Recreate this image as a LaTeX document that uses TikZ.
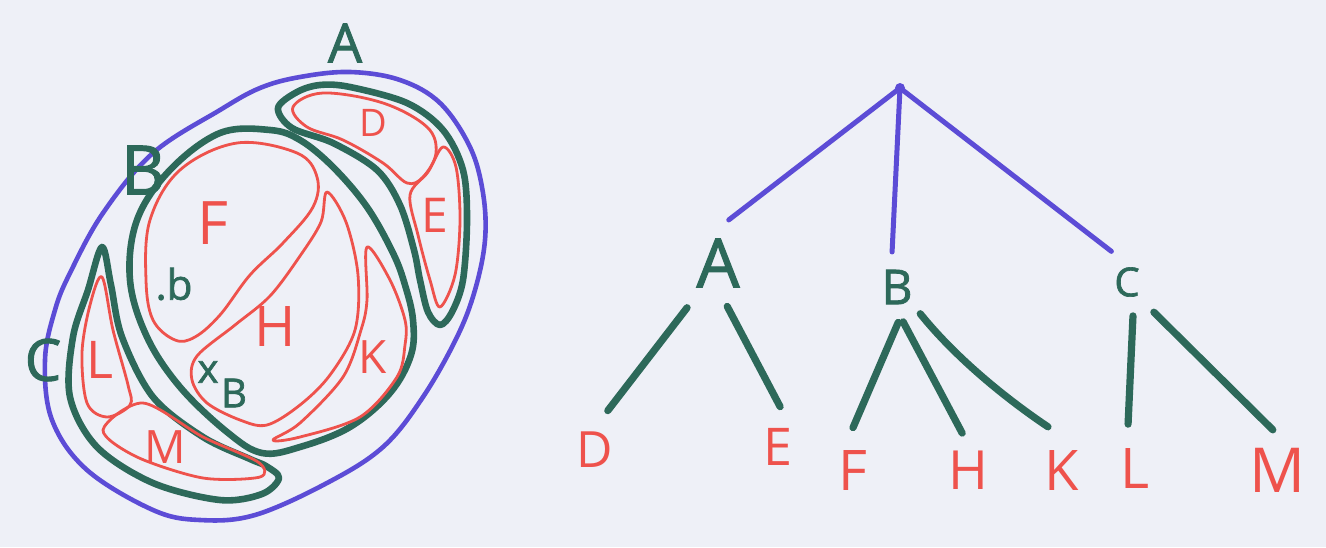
\documentclass[tikz,border=0pt]{standalone}
\usepackage{fontspec}
\setmainfont{Open Sans}
\newfontfamily\greenfont{Open Sans}[FakeBold=1.6]
\definecolor{bg}{RGB}{238,240,247}
\definecolor{pgreen}{RGB}{45,105,90}
\definecolor{pred}{RGB}{238,82,76}
\definecolor{pblue}{RGB}{92,76,214}
\begin{document}
\begin{tikzpicture}[x=0.5pt,y=-0.5pt,
  gline/.style={draw=pgreen,line width=3.3pt,line cap=round,line join=round},
  rline/.style={draw=pred,line width=1.4pt,line cap=round,line join=round},
  bline/.style={draw=pblue,line width=2.3pt},
  glab/.style={text=pgreen,font=\greenfont\fontsize{#1}{#1}\selectfont,inner sep=0pt},
  rlab/.style={text=pred,font=\fontsize{#1}{#1}\selectfont,inner sep=0pt},
  tnode/.style={circle,inner sep=0pt,minimum size=#1},
  tblue/.style={draw=pblue,line width=2.5pt,line cap=round},
  tgreen/.style={draw=pgreen,line width=3.6pt,line cap=round},
]
\fill[bg] (0,0) rectangle (1326,547);
\useasboundingbox (0,0) rectangle (1326,547);

% ---------- left drawing ----------
% outer blue set
\draw[bline] plot[smooth cycle, tension=0.6] coordinates {
 (300,77) (350,72) (400,80) (440,103) (470,147) (483,193) (485,240) (475,290)
 (457,337) (423,397) (383,447) (327,483) (255,515) (200,520) (153,510) (87,470)
 (52,420) (45,360) (55,310) (70,273) (103,213) (153,153) (220,110) (260,88)};

% green A (crescent)
\draw[gline] plot[smooth cycle, tension=0.55] coordinates {
 (297,92) (320,85) (350,87) (407,103) (443,130) (463,170) (467,220) (463,280)
 (452,312) (440,325) (428,312) (420,280) (414,250) (400,205) (377,170)
 (333,143) (292,128) (278,108)};
% green B
\draw[gline] plot[smooth cycle, tension=0.6] coordinates {
 (220,133) (270,130) (300,140) (333,167) (367,207) (393,253) (405,285) (413,320)
 (411,355) (390,393) (350,427) (300,447) (262,453) (227,432) (180,387) (147,337)
 (130,280) (137,220) (170,170)};
% green C (crescent)
\draw[gline] plot[smooth cycle, tension=0.55] coordinates {
 (102,247) (88,290) (73,337) (70,397) (97,447) (153,483) (220,500) (262,494)
 (279,478) (266,466) (250,459) (203,437) (153,397) (122,337) (111,285)};

% red D
\draw[rline] plot[smooth cycle, tension=0.6] coordinates {
 (293,107) (323,93) (383,103) (427,127) (436,153) (423,177) (407,183) (383,163)
 (343,140) (307,127)};
% red E
\draw[rline] plot[smooth cycle, tension=0.55] coordinates {
 (443,147) (456,167) (460,220) (455,275) (440,307) (430,280) (418,235) (410,195)
 (428,172)};
% red F
\draw[rline] plot[smooth cycle, tension=0.6] coordinates {
 (237,143) (297,153) (317,177) (313,207) (283,243) (250,275) (220,315) (195,337)
 (175,340) (153,320) (146,280) (150,220) (180,170)};
% red H
\draw[rline] plot[smooth cycle, tension=0.55] coordinates {
 (327,192) (346,222) (358,275) (355,330) (330,375) (300,405) (267,425) (240,420)
 (207,403) (192,380) (197,356) (235,325) (270,296) (300,256) (321,222)};
% red K (crescent)
\draw[rline] plot[smooth cycle, tension=0.55] coordinates {
 (367,247) (390,280) (405,320) (405,345) (397,377) (360,417) (300,437) (273,440)
 (300,423) (343,377) (361,330) (367,300)};
% red L
\draw[rline] plot[smooth cycle, tension=0.55] coordinates {
 (102,277) (113,330) (128,385) (130,405) (107,417) (87,403) (82,353) (90,305)};
% red M
\draw[rline] plot[smooth cycle, tension=0.5] coordinates {
 (103,430) (143,403) (203,437) (258,462) (260,477) (203,478) (137,457)};

% labels of the left drawing
\node[glab=27] (lA) at (345,43) {A};
\node[glab=34] (lB) at (143,170) {B};
\node[glab=29] (lC) at (43,360) {C};
\node[rlab=19] (lD) at (373,123) {D};
\node[rlab=24] (lE) at (435,215) {E};
\node[rlab=30] (lF) at (213,223) {F};
\node[glab=21] (lb) at (174,284) {.b};
\node[rlab=28] (lH) at (275,327) {H};
\node[rlab=23] (lK) at (373,357) {K};
\node[rlab=26] (lL) at (100,360) {L};
\node[glab=20] (lx) at (208,372) {x};
\node[glab=20] (lxB) at (234,393) {B};
\node[rlab=23] (lM) at (165,447) {M};

% ---------- right tree ----------
\node[circle,fill=pblue,inner sep=0pt,minimum size=5pt] (root) at (900,88) {};
\node[tnode=44pt,glab=34] (tA) at (718,263) {A};
\node[tnode=35pt,glab=24] (tB) at (897,287) {B};
\node[tnode=34pt,glab=20] (tC) at (1127,282) {C};
\node[tnode=41pt,rlab=25] (tD) at (595,450) {D};
\node[tnode=40pt,rlab=26] (tE) at (778,447) {E};
\node[tnode=42pt,rlab=28] (tF) at (853,470) {F};
\node[tnode=37pt,rlab=27] (tH) at (968,470) {H};
\node[tnode=45pt,rlab=28] (tK) at (1062,470) {K};
\node[tnode=44pt,rlab=28] (tL) at (1135,468) {L};
\node[tnode=40pt,rlab=31] (tM) at (1277,470) {M};

\draw[tblue] (root.center) -- (tA.76);
\draw[tblue] (root.center) -- (tB.98);
\draw[tblue] (root.center) -- (tC.117);
\draw[tgreen,shorten <=5pt] (tA.236) -- (tD.72);
\draw[tgreen] (tA.282) -- (tE.87);
\draw[tgreen] (tB.272) -- (tF.90);
\draw[tgreen] (tB.280) -- (tH.99);
\draw[tgreen] (tB.311) .. controls (955,357) and (1005,398) .. (tK.108);
\draw[tgreen] (tC.280) -- (tL.99);
\draw[tgreen,shorten <=3pt] (tC.311) -- (tM.96);
\end{tikzpicture}
\end{document}
